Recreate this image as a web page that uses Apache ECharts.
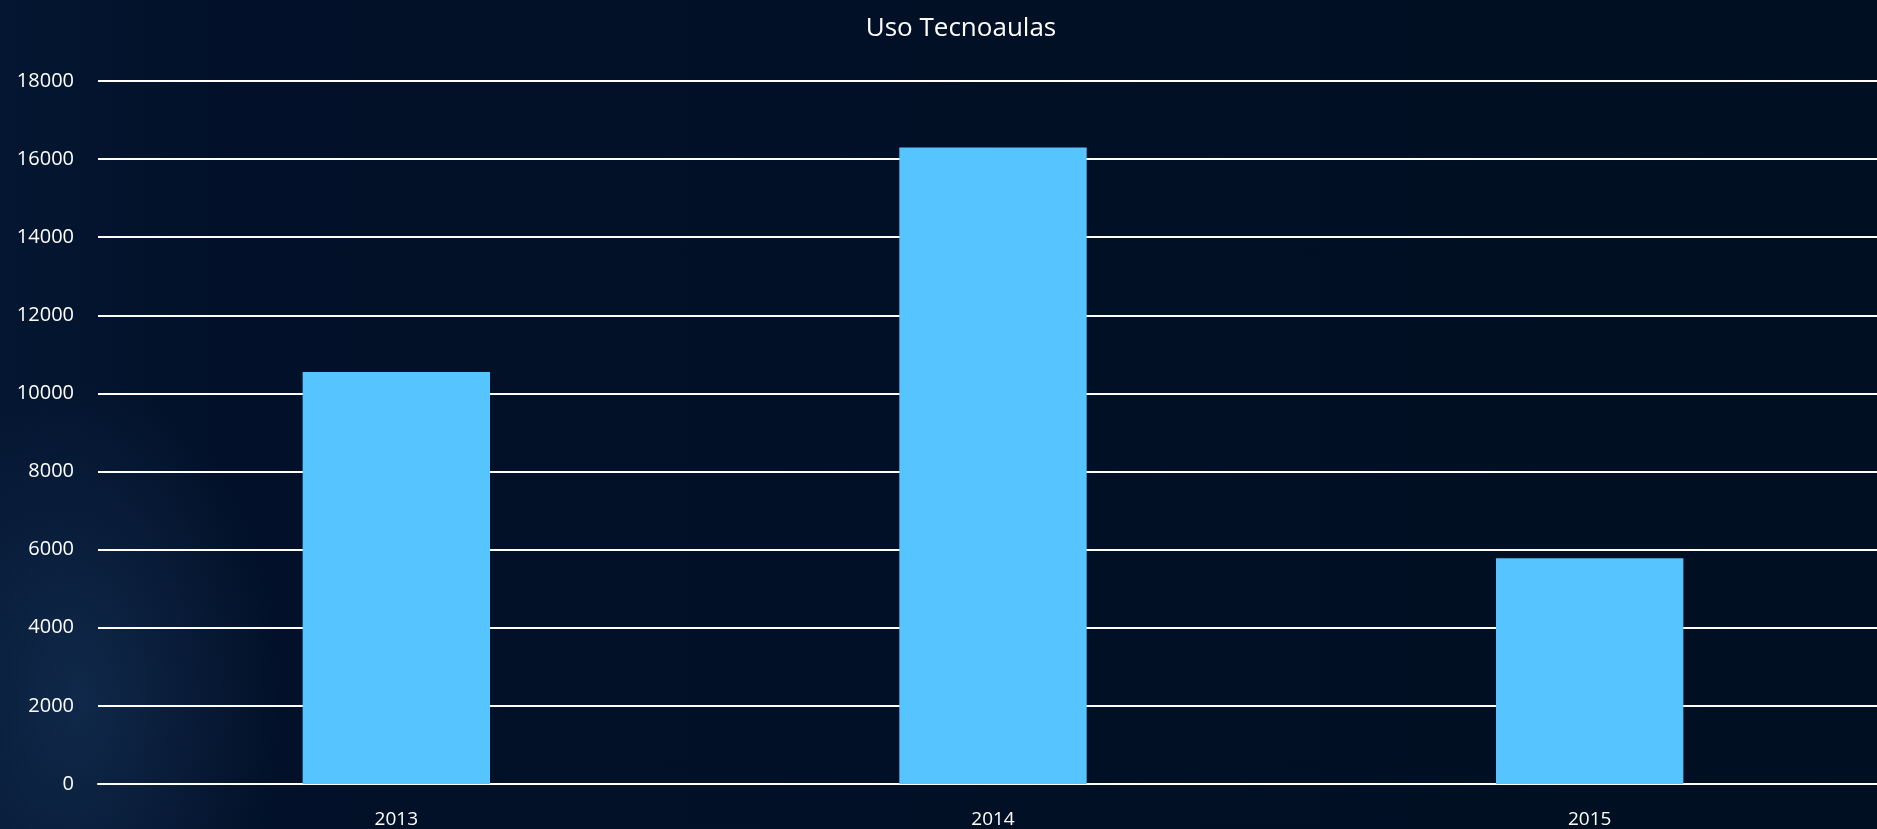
<!DOCTYPE html>
<html>
<head>
<meta charset="utf-8">
<script src="https://cdn.jsdelivr.net/npm/echarts@6/dist/echarts.min.js"></script>
<style>
  html, body { margin: 0; padding: 0; width: 100%; height: 100%; overflow: hidden; }
  body {
    background:
      radial-gradient(ellipse 200px 320px at 80px 700px, rgba(40, 78, 125, 0.35), rgba(10, 30, 60, 0) 100%),
      linear-gradient(90deg, #041631 0px, #021129 220px, #010f22 100%);
  }
  #chart { width: 1888px; height: 829px; }
</style>
</head>
<body>
<div id="chart"></div>
<script>
const title = 'Uso Tecnoaulas'
const years = ['2013', '2014', '2015']
const usage = [10550, 16300, 5780]
const yTicks = { min: 0, max: 18000, step: 2000 }

const chart = echarts.init(document.getElementById('chart'), null, { renderer: 'canvas' })
const font = '"Open Sans", Lato, sans-serif'

chart.setOption({
  backgroundColor: 'transparent',
  animation: false,
  title: {
    text: title, left: 956, top: 11, textAlign: 'center',
    textStyle: { color: '#ffffff', fontFamily: font, fontSize: 26, fontWeight: 'normal' },
  },
  grid: { left: 98, right: 0, top: 81, bottom: 45, containLabel: false },
  xAxis: {
    type: 'category', data: years,
    axisLine: { show: true, lineStyle: { color: '#ffffff', width: 2 } },
    axisTick: { show: false },
    axisLabel: { color: '#ffffff', fontFamily: font, fontSize: 19, margin: 26 },
  },
  yAxis: {
    type: 'value', min: yTicks.min, max: yTicks.max, interval: yTicks.step,
    axisLine: { show: false }, axisTick: { show: false },
    axisLabel: { color: '#ffffff', fontFamily: font, fontSize: 20, margin: 24, formatter: v => String(v) },
    splitLine: { lineStyle: { color: '#ffffff', width: 2 } },
  },
  series: [{
    type: 'bar', data: usage, barWidth: '31.4%',
    itemStyle: { color: '#56c4ff' },
  }],
})
</script>
</body>
</html>
